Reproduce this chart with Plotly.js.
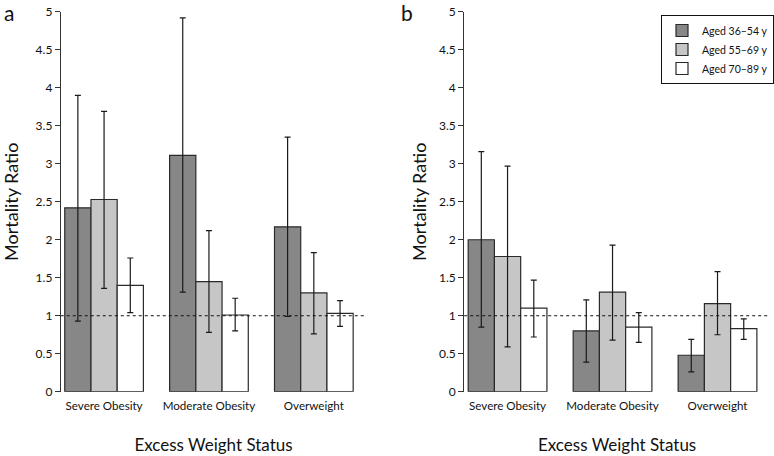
<!DOCTYPE html>
<html>
<head>
<meta charset="utf-8">
<script src="https://cdn.plot.ly/plotly-3.0.1.min.js"></script>
<style>html,body{margin:0;padding:0;background:#fff;}#chart{width:774px;height:456px;}</style>
</head>
<body>
<div id="chart"></div>
<script>
// Categories and series
const categories = ["Severe Obesity", "Moderate Obesity", "Overweight"];
const seriesNames = ["Aged 36–54 y", "Aged 55–69 y", "Aged 70–89 y"];

// Panel a: mortality ratio and 95% CI
const aValues36 = [2.42, 3.11, 2.17];
const aLower36  = [0.93, 1.31, 0.99];
const aUpper36  = [3.90, 4.92, 3.35];
const aValues55 = [2.53, 1.45, 1.30];
const aLower55  = [1.36, 0.78, 0.76];
const aUpper55  = [3.69, 2.12, 1.83];
const aValues70 = [1.40, 1.01, 1.03];
const aLower70  = [1.04, 0.80, 0.86];
const aUpper70  = [1.76, 1.23, 1.20];

// Panel b: mortality ratio and 95% CI
const bValues36 = [2.00, 0.80, 0.48];
const bLower36  = [0.85, 0.39, 0.26];
const bUpper36  = [3.16, 1.21, 0.69];
const bValues55 = [1.78, 1.31, 1.16];
const bLower55  = [0.59, 0.68, 0.75];
const bUpper55  = [2.97, 1.93, 1.58];
const bValues70 = [1.10, 0.85, 0.83];
const bLower70  = [0.72, 0.65, 0.69];
const bUpper70  = [1.47, 1.04, 0.96];

const fillColors = ["#878787", "#c6c6c6", "#ffffff"];
const FONT = "Lato, 'Open Sans', sans-serif";

function mkTrace(name, vals, lo, hi, color, xa, ya, showLegend) {
  return {
    type: "bar",
    name: name,
    x: categories,
    y: vals,
    xaxis: xa,
    yaxis: ya,
    showlegend: showLegend,
    legendgroup: name,
    marker: {color: color, line: {color: "#2a2a2a", width: 1.2}},
    error_y: {
      type: "data",
      symmetric: false,
      array: hi.map((h, i) => h - vals[i]),
      arrayminus: vals.map((v, i) => v - lo[i]),
      color: "#1a1a1a",
      thickness: 1.2,
      width: 3
    },
    hoverinfo: "skip"
  };
}

const data = [
  mkTrace(seriesNames[0], aValues36, aLower36, aUpper36, fillColors[0], "x", "y", true),
  mkTrace(seriesNames[1], aValues55, aLower55, aUpper55, fillColors[1], "x", "y", true),
  mkTrace(seriesNames[2], aValues70, aLower70, aUpper70, fillColors[2], "x", "y", true),
  mkTrace(seriesNames[0], bValues36, bLower36, bUpper36, fillColors[0], "x2", "y2", false),
  mkTrace(seriesNames[1], bValues55, bLower55, bUpper55, fillColors[1], "x2", "y2", false),
  mkTrace(seriesNames[2], bValues70, bLower70, bUpper70, fillColors[2], "x2", "y2", false)
];

const yDom = [0.141, 0.974];
function xAxis(domain) {
  return {
    domain: domain,
    type: "category",
    range: [-0.413, 2.5],
    showline: false, showgrid: false, zeroline: false,
    ticks: "", ticklabelstandoff: 6,
    tickfont: {family: FONT, size: 11.6, color: "#111"},
    title: {text: "Excess Weight Status", font: {family: FONT, size: 17, color: "#111"}, standoff: 27},
    fixedrange: true
  };
}
function yAxis(anchor, standoff) {
  return {
    domain: yDom,
    anchor: anchor,
    range: [0, 5],
    tickvals: [0, 0.5, 1, 1.5, 2, 2.5, 3, 3.5, 4, 4.5, 5],
    ticktext: ["0", "0.5", "1", "1.5", "2", "2.5", "3", "3.5", "4", "4.5", "5"],
    showline: true, linecolor: "#333", linewidth: 1,
    ticks: "outside", ticklen: 5, tickwidth: 1, tickcolor: "#333",
    showgrid: false, zeroline: false,
    tickfont: {family: FONT, size: 12, color: "#111"},
    title: {text: "Mortality Ratio", font: {family: FONT, size: 18, color: "#111"}, standoff: standoff},
    fixedrange: true
  };
}

const layout = {
  width: 774, height: 456,
  margin: {l: 0, r: 0, t: 0, b: 0},
  paper_bgcolor: "#fff", plot_bgcolor: "#fff",
  barmode: "group", bargap: 0.25, bargroupgap: 0,
  font: {family: FONT, color: "#111"},
  xaxis: Object.assign(xAxis([61/774, 367.7/774]), {anchor: "y"}),
  yaxis: yAxis("x", 19),
  xaxis2: Object.assign(xAxis([466/774, 773/774]), {anchor: "y2"}),
  yaxis2: yAxis("x2", 7),
  shapes: [
    {type: "line", xref: "x domain", yref: "y", x0: 0, x1: 1, y0: 1, y1: 1, line: {color: "#111", width: 1, dash: "3px,3px"}},
    {type: "line", xref: "x2 domain", yref: "y2", x0: 0, x1: 1, y0: 1, y1: 1, line: {color: "#111", width: 1, dash: "3px,3px"}}
  ],
  annotations: [
    {text: "a", xref: "paper", yref: "paper", x: 0.003, y: 1.005, xanchor: "left", yanchor: "top", showarrow: false, font: {family: FONT, size: 21, color: "#111"}},
    {text: "b", xref: "paper", yref: "paper", x: 401/774, y: 1.005, xanchor: "left", yanchor: "top", showarrow: false, font: {family: FONT, size: 21, color: "#111"}}
  ],
  legend: {
    x: 664/774, y: 1 - 15/456, xanchor: "left", yanchor: "top",
    bordercolor: "#111", borderwidth: 1, bgcolor: "#fff",
    font: {family: FONT, size: 10.5, color: "#111"},
    tracegroupgap: 0, itemwidth: 30
  },
  showlegend: true
};

Plotly.newPlot("chart", data, layout, {displayModeBar: false, staticPlot: true});
</script>
</body>
</html>
